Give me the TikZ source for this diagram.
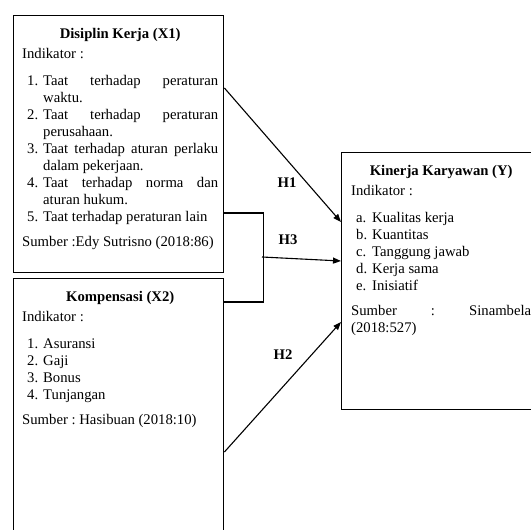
\documentclass[tikz,border=0pt]{standalone}
\usepackage{fontspec}
\setmainfont{Liberation Serif}
\usetikzlibrary{positioning,arrows.meta}

\hyphenpenalty=10000
\exhyphenpenalty=10000
\tolerance=10000
\frenchspacing

\newcommand{\pointitem}[2]{\par\hangindent=21pt\hangafter=1\hspace*{5pt}\makebox[16pt][l]{#1}#2\par}

\begin{document}
\begin{tikzpicture}[x=1pt, y=-1pt,
  font=\fontsize{14.7}{17}\selectfont,
  framebox/.style={draw, line width=1.4pt, inner sep=0pt, anchor=north west},
  boxtext/.style={inner sep=0pt, anchor=north west, align=justify, text width=#1},
  link/.style={line width=1.1pt},
  linkarrow/.style={link, -{Triangle[length=8pt, width=6pt]}},
  hyp/.style={font=\fontsize{14.7}{17}\selectfont\bfseries}]
  \useasboundingbox (0,0) rectangle (531,530);

  \node[framebox, minimum width=210pt, minimum height=257pt] (x1) at (13,15) {};
  \node[framebox, minimum width=210pt, minimum height=270pt] (x2) at (13,278) {};
  \node[framebox, minimum width=196pt, minimum height=257pt] (y) at (341,152) {};

  \node[boxtext=196pt] (x1text) at ([xshift=9pt, yshift=-13pt]x1.north west) {%
    {\centering\bfseries Disiplin Kerja (X1)\par}
    \vspace{3pt}Indikator :\par\vspace{10pt}
    \pointitem{1.}{Taat terhadap peraturan waktu.}
    \pointitem{2.}{Taat terhadap peraturan perusahaan.}
    \pointitem{3.}{Taat terhadap aturan perlaku dalam pekerjaan.}
    \pointitem{4.}{Taat terhadap norma dan aturan hukum.}
    \pointitem{5.}{Taat terhadap peraturan lain}
    \vspace{8pt}Sumber :Edy Sutrisno (2018:86)};

  \node[boxtext=196pt] (x2text) at ([xshift=9pt, yshift=-13pt]x2.north west) {%
    {\centering\bfseries Kompensasi (X2)\par}
    \vspace{3pt}Indikator :\par\vspace{10pt}
    \pointitem{1.}{Asuransi}
    \pointitem{2.}{Gaji}
    \pointitem{3.}{Bonus}
    \pointitem{4.}{Tunjangan}
    \vspace{8pt}Sumber : Hasibuan (2018:10)};

  \node[boxtext=180pt] (ytext) at ([xshift=10pt, yshift=-13pt]y.north west) {%
    {\centering\bfseries Kinerja Karyawan (Y)\par}
    \vspace{3pt}Indikator :\par\vspace{10pt}
    \pointitem{a.}{Kualitas kerja}
    \pointitem{b.}{Kuantitas}
    \pointitem{c.}{Tanggung jawab}
    \pointitem{d.}{Kerja sama}
    \pointitem{e.}{Inisiatif}
    \vspace{8pt}Sumber : Sinambela (2018:527)};

  \draw[linkarrow] ([yshift=-73pt]x1.north east) -- ([yshift=-70pt]y.north west);
  \draw[link] ([yshift=-198pt]x1.north east) -| ([xshift=39pt, yshift=-24pt]x2.north east)
    -- ([yshift=-24pt]x2.north east);
  \coordinate (merge) at (262,257);
  \draw[linkarrow] (merge) -- ([yshift=-109pt]y.north west);
  \draw[linkarrow] ([yshift=-174pt]x2.north east) -- ([yshift=-170pt]y.north west);

  \node[hyp] (h1) at (287,183) {H1};
  \node[hyp] (h3) at (288,240) {H3};
  \node[hyp] (h2) at (283,355) {H2};
\end{tikzpicture}
\end{document}
